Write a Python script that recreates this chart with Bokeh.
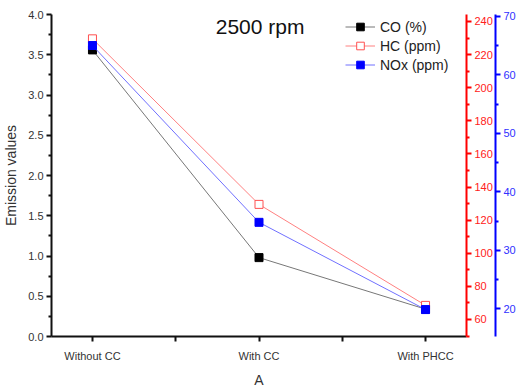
from bokeh.plotting import figure
from bokeh.models import (Range1d, LinearAxis, FixedTicker, Label, Legend, LegendItem)
from bokeh.embed import file_html
from bokeh.resources import INLINE

categories = ["Without CC", "With CC", "With PHCC"]
co_pct = [3.56, 0.98, 0.34]
hc_ppm = [229.5, 129.5, 68.5]
nox_ppm = [65.0, 34.8, 19.9]

left_ticks = [0.0, 0.5, 1.0, 1.5, 2.0, 2.5, 3.0, 3.5, 4.0]
red_ticks = [60, 80, 100, 120, 140, 160, 180, 200, 220, 240]
blue_ticks = [20, 30, 40, 50, 60, 70]

xs = list(range(len(categories)))
FONT = "Liberation Sans"

p = figure(frame_width=415, frame_height=322, output_backend="svg", toolbar_location=None,
           x_range=Range1d(-0.246, 2.246), y_range=Range1d(0, 4.0),
           min_border_left=50, min_border_top=14, min_border_bottom=40, min_border_right=10)
p.outline_line_color = None
p.xgrid.visible = False
p.ygrid.visible = False
p.background_fill_color = "white"
p.border_fill_color = "white"

p.extra_y_ranges = {"hc": Range1d(49.7, 244.2), "nox": Range1d(15.3, 70.3)}

def style_axis(ax, color, label_color):
    ax.axis_line_color = color
    ax.axis_line_width = 2
    ax.major_tick_line_color = color
    ax.minor_tick_line_color = color
    ax.major_tick_line_width = 2
    ax.minor_tick_line_width = 2
    ax.major_tick_out = 5
    ax.major_tick_in = 0
    ax.minor_tick_out = 3
    ax.minor_tick_in = 0
    ax.major_label_text_color = label_color
    ax.major_label_text_font = FONT
    ax.major_label_text_font_size = "11px"
    ax.major_label_standoff = 3

# left axis
yax = p.yaxis[0]
yax.ticker = FixedTicker(ticks=left_ticks, minor_ticks=[t + 0.25 for t in left_ticks[:-1]])
yax.formatter.use_scientific = False
style_axis(yax, "#111111", "#333333")
yax.major_label_overrides = {t: f"{t:.1f}" for t in left_ticks}
yax.axis_label = "Emission values"
yax.axis_label_text_font = FONT
yax.axis_label_text_font_style = "normal"
yax.axis_label_text_font_size = "14px"
yax.axis_label_text_color = "#333333"
yax.axis_label_standoff = 6

# bottom axis
xax = p.xaxis[0]
xax.ticker = FixedTicker(ticks=xs, minor_ticks=[0.5, 1.5])
style_axis(xax, "#111111", "#333333")
xax.minor_tick_out = 5
xax.major_label_overrides = {i: c for i, c in enumerate(categories)}
xax.major_label_standoff = 8
xax.axis_label = "A"
xax.axis_label_text_font = FONT
xax.axis_label_text_font_style = "normal"
xax.axis_label_text_font_size = "14px"
xax.axis_label_text_color = "#333333"
xax.axis_label_standoff = 7

# red axis
rax = LinearAxis(y_range_name="hc",
                 ticker=FixedTicker(ticks=red_ticks, minor_ticks=[t - 10 for t in red_ticks] + [250]))
style_axis(rax, "#ff0000", "#ff2020")
p.add_layout(rax, "right")

# blue axis
bax = LinearAxis(y_range_name="nox",
                 ticker=FixedTicker(ticks=blue_ticks, minor_ticks=[t - 5 for t in blue_ticks]))
style_axis(bax, "#0000ff", "#3030ff")
p.add_layout(bax, "right")

# series
r_co_l = p.line(xs, co_pct, line_color="#777777", line_width=1)
r_co_m = p.scatter(xs, co_pct, marker="square", size=8, fill_color="black", line_color="black")
r_hc_l = p.line(xs, hc_ppm, line_color="#ff8080", line_width=1, y_range_name="hc")
r_hc_m = p.scatter(xs, hc_ppm, marker="square", size=8, fill_color="white", line_color="#ff5050",
                   line_width=1, y_range_name="hc")
r_nox_l = p.line(xs, nox_ppm, line_color="#7070ff", line_width=1, y_range_name="nox")
r_nox_m = p.scatter(xs, nox_ppm, marker="square", size=8, fill_color="#0000ff", line_color="#0000ff",
                    y_range_name="nox")

legend = Legend(items=[LegendItem(label="CO (%)", renderers=[r_co_l, r_co_m]),
                       LegendItem(label="HC (ppm)", renderers=[r_hc_l, r_hc_m]),
                       LegendItem(label="NOx (ppm)", renderers=[r_nox_l, r_nox_m])],
                location=(294, 262))
legend.border_line_color = None
legend.background_fill_alpha = 0
legend.padding = 0
legend.margin = 0
legend.spacing = 0
legend.label_height = 19
legend.glyph_height = 19
legend.glyph_width = 30
legend.label_standoff = 5
legend.label_text_font = FONT
legend.label_text_font_size = "14px"
legend.label_text_color = "#222222"
p.add_layout(legend)

title = Label(x=0.74, y=3.85, text="2500 rpm", text_font=FONT, text_font_size="21px",
              text_color="#111111", text_baseline="middle", text_align="left")
p.add_layout(title)

open("out.html", "w").write(file_html(p, INLINE))
